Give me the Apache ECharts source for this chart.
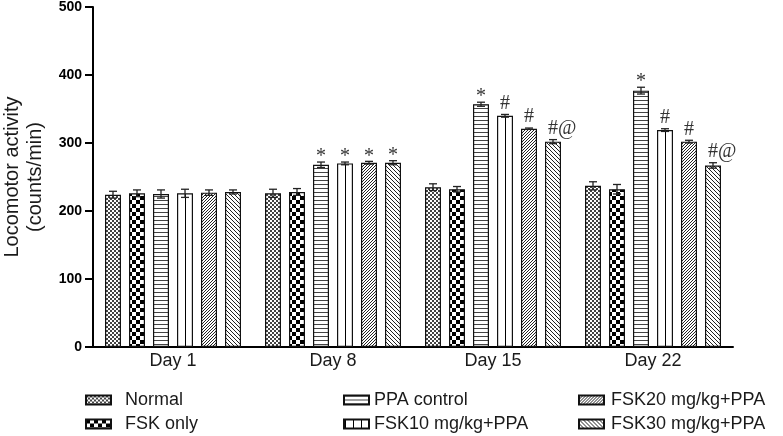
<!DOCTYPE html>
<html>
<head>
<meta charset="utf-8">
<script src="https://cdn.jsdelivr.net/npm/echarts@6/dist/echarts.min.js"></script>
<style>
  html, body { margin: 0; padding: 0; background: #fff; }
  #chart { width: 783px; height: 436px; }
</style>
</head>
<body>
<div id="chart"></div>
<script>
// categories and group names
const days = ['Day 1', 'Day 8', 'Day 15', 'Day 22'];
const groups = ['Normal', 'FSK only', 'PPA control', 'FSK10 mg/kg+PPA', 'FSK20 mg/kg+PPA', 'FSK30 mg/kg+PPA'];

// mean locomotor activity (counts/min)
const normal     = [224, 226, 235, 237];
const fskOnly    = [226, 228, 232, 232];
const ppaControl = [225, 268, 357, 377];
const fsk10      = [226, 270, 340, 319];
const fsk20      = [227, 271, 321, 302];
const fsk30      = [228, 271, 302, 267];

// error bars (SEM)
const normalErr     = [5, 6, 5, 6];
const fskOnlyErr    = [5, 5, 4, 7];
const ppaControlErr = [6, 4, 3, 5];
const fsk10Err      = [6, 2, 2, 2];
const fsk20Err      = [4, 2, 1, 2];
const fsk30Err      = [3, 3, 3, 4];

// significance marks
const normalNote     = ['', '', '', ''];
const fskOnlyNote    = ['', '', '', ''];
const ppaControlNote = ['', '*', '*', '*'];
const fsk10Note      = ['', '*', '#', '#'];
const fsk20Note      = ['', '*', '#', '#'];
const fsk30Note      = ['', '*', '#@', '#@'];

const yTicks = [0, 100, 200, 300, 400, 500];

const means = [normal, fskOnly, ppaControl, fsk10, fsk20, fsk30];
const errs = [normalErr, fskOnlyErr, ppaControlErr, fsk10Err, fsk20Err, fsk30Err];
const notes = [normalNote, fskOnlyNote, ppaControlNote, fsk10Note, fsk20Note, fsk30Note];

const FONT = '"Liberation Sans", Arial, sans-serif';
const BAR_W = 16;
const BAR_STEP = 24; // bar width + gap

// fill patterns (hatching like the original figure)
function tile(w, h, draw) {
  const c = document.createElement('canvas');
  c.width = w; c.height = h;
  const ctx = c.getContext('2d');
  ctx.fillStyle = '#fff';
  ctx.fillRect(0, 0, w, h);
  draw(ctx, w, h);
  return { image: c, repeat: 'repeat' };
}
function px(ctx, color, test, w, h) {
  ctx.fillStyle = color;
  for (let x = 0; x < w; x++)
    for (let y = 0; y < h; y++)
      if (test(x, y)) ctx.fillRect(x, y, 1, 1);
}
const patterns = [
  tile(4, 4, (ctx, w, h) => px(ctx, '#444', (x, y) => (Math.floor(x / 2) + Math.floor(y / 2)) % 2 === 0, w, h)),
  tile(8, 8, (ctx, w, h) => px(ctx, '#000', (x, y) => (Math.floor(x / 4) + Math.floor(y / 4)) % 2 === 0, w, h)),
  tile(4, 4, (ctx, w, h) => px(ctx, '#444', (x, y) => y === 0, w, h)),
  tile(8, 8, (ctx, w, h) => px(ctx, '#000', (x, y) => x === 1, w, h)),
  tile(3, 3, (ctx, w, h) => px(ctx, '#222', (x, y) => (x + y) % 3 === 0, w, h)),
  tile(4, 4, (ctx, w, h) => px(ctx, '#222', (x, y) => ((x - y) % 4 + 4) % 4 === 0, w, h))
];

const barSeries = groups.map((name, i) => ({
  name: name,
  type: 'bar',
  data: means[i],
  barWidth: BAR_W,
  barGap: '50%',
  itemStyle: { color: patterns[i], borderColor: '#111', borderWidth: 1.2 },
  emphasis: { disabled: true }
}));

// one custom series draws all error bars and the significance marks
const errData = [];
const errNotes = [];
groups.forEach((g, i) => {
  days.forEach((d, c) => {
    errData.push([c, means[i][c], errs[i][c], i]);
    errNotes.push(notes[i][c]);
  });
});

const errSeries = {
  type: 'custom',
  z: 10,
  clip: false,
  silent: true,
  data: errData,
  renderItem: function (params, api) {
    const c = api.value(0), v = api.value(1), e = api.value(2), k = api.value(3);
    const x = api.coord([c, v])[0] + (k - 2.5) * BAR_STEP;
    const top = api.coord([c, v + e])[1];
    const bot = api.coord([c, v - e])[1];
    const style = { stroke: '#222', lineWidth: 1.3 };
    const children = [
      { type: 'line', shape: { x1: x, y1: top, x2: x, y2: bot }, style: style },
      { type: 'line', shape: { x1: x - 4, y1: top, x2: x + 4, y2: top }, style: style },
      { type: 'line', shape: { x1: x - 4, y1: bot, x2: x + 4, y2: bot }, style: style }
    ];
    const note = errNotes[params.dataIndex];
    if (note) {
      // the serif asterisk sits high in its box, pull it down a little
      const dy = note === '*' ? 5 : -1;
      children.push({
        type: 'text',
        style: {
          text: note,
          x: x - 5,
          y: top + dy,
          align: 'left',
          verticalAlign: 'bottom',
          font: '20px "Liberation Serif", "Times New Roman", serif',
          fill: '#333'
        }
      });
    }
    return { type: 'group', children: children };
  }
};

function legendCol(names, left, textPad) {
  return {
    orient: 'vertical',
    left: left,
    top: 391,
    height: 46,
    padding: 0,
    icon: 'rect',
    itemWidth: 25,
    itemHeight: 9,
    itemGap: 6,
    data: names,
    selectedMode: false,
    textStyle: { fontFamily: FONT, fontSize: 18, color: '#1a1a1a', padding: [0, 0, 0, textPad] }
  };
}

const chart = echarts.init(document.getElementById('chart'), null, { renderer: 'canvas' });
chart.setOption({
  animation: false,
  backgroundColor: '#fff',
  grid: { left: 93, right: 50, top: 7, bottom: 89, containLabel: false, outerBoundsMode: 'none' },
  legend: [
    legendCol([groups[0], groups[1]], 85, 9),
    legendCol([groups[2], groups[3]], 343, 0),
    legendCol([groups[4], groups[5]], 578, 2)
  ],
  xAxis: {
    type: 'category',
    data: days,
    axisLine: { lineStyle: { color: '#000', width: 2 } },
    axisTick: { alignWithLabel: true, length: 4, lineStyle: { color: '#000', width: 1.5 } },
    axisLabel: { fontFamily: FONT, fontSize: 18, color: '#1a1a1a', margin: 5 }
  },
  yAxis: {
    type: 'value',
    min: yTicks[0],
    max: yTicks[yTicks.length - 1],
    interval: yTicks[1] - yTicks[0],
    name: 'Locomotor activity\n(counts/min)',
    nameLocation: 'middle',
    nameGap: 46,
    nameTextStyle: { fontFamily: FONT, fontSize: 20, color: '#1a1a1a', lineHeight: 23 },
    splitLine: { show: false },
    axisLine: { show: true, lineStyle: { color: '#000', width: 2 } },
    axisTick: { show: true, length: 8, lineStyle: { color: '#000', width: 2 } },
    axisLabel: { fontFamily: FONT, fontSize: 14, fontWeight: 'bold', color: '#000', margin: 11 }
  },
  series: barSeries.concat([errSeries])
});
</script>
</body>
</html>
